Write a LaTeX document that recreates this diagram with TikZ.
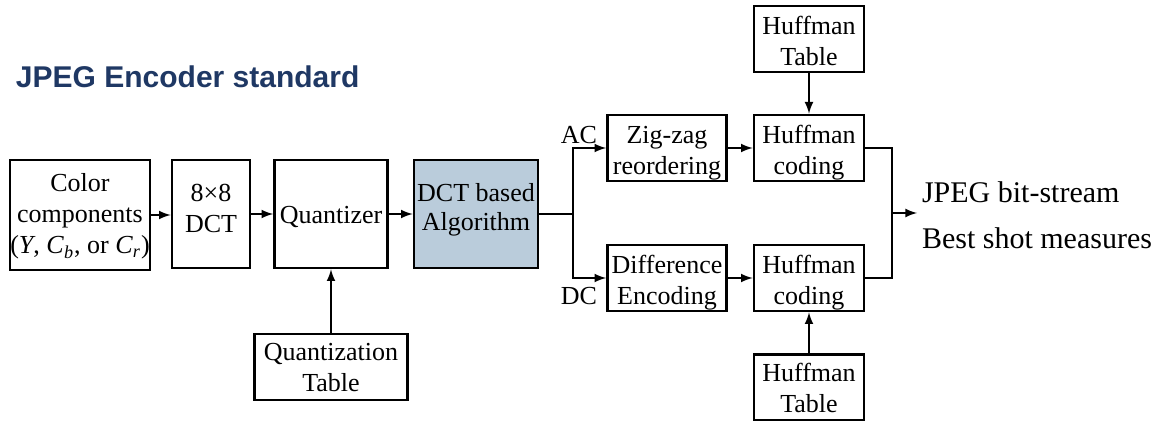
\documentclass[tikz,border=0pt]{standalone}
\usepackage{fontspec}
\setmainfont{Liberation Serif}
\newfontfamily\titlefont{Liberation Sans}
\definecolor{titleblue}{RGB}{31,56,100}
\definecolor{algofill}{RGB}{186,204,219}
\tikzset{blk/.style={draw, line width=1.4pt, inner sep=0pt, align=center, font=\fontsize{13}{15.5}\selectfont, text depth=1pt},
  smallblk/.style={blk, minimum width=#1, minimum height=33pt, text height=28pt},
  lbl/.style={font=\fontsize{13}{15}\selectfont, inner sep=1pt}}
\begin{document}
\begin{tikzpicture}[>=latex, x=0.5pt, y=-0.5pt, line width=1pt]
\useasboundingbox (0,0) rectangle (1160,421);
\node[anchor=west, inner sep=0pt, text=titleblue, font=\titlefont\bfseries\fontsize{15}{18}\selectfont] (title) at (15,77) {JPEG Encoder standard};
\node[blk, minimum width=70pt, minimum height=55pt, text height=40pt] (col) at (80,215) {Color\\components\\(\textit{Y}, \textit{C}\textsubscript{\textit{b}}, or \textit{C}\textsubscript{\textit{r}})};
\node[blk, minimum width=39pt, minimum height=54pt, text height=20pt] (dct) at (211,214) {8\texttimes8\\DCT};
\node[blk, minimum width=56.5pt, minimum height=54pt, text height=11pt] (quant) at (331,214) {Quantizer};
\node[blk, fill=algofill, minimum width=62pt, minimum height=54pt, text height=18pt, font=\fontsize{13}{14.5}\selectfont] (algo) at (476,214) {DCT based\\Algorithm};
\node[smallblk=76.5pt, text height=26pt] (qt) at (331,367) {Quantization\\Table};
\node[smallblk=59.5pt] (zig) at (667,148) {Zig-zag\\reordering};
\node[smallblk=59.5pt] (diff) at (667,278) {Difference\\Encoding};
\node[smallblk=55pt] (hc1) at (809,148) {Huffman\\coding};
\node[smallblk=55pt] (hc2) at (809,278) {Huffman\\coding};
\node[smallblk=55pt] (ht1) at (809,39) {Huffman\\Table};
\node[smallblk=55pt, text height=26.5pt] (ht2) at (809,387.5) {Huffman\\Table};
\node[lbl] (ac) at (579,135) {AC};
\node[lbl] (dc) at (579,296) {DC};
\node[anchor=west, align=left, font=\fontsize{15}{23}\selectfont, inner sep=2pt] (out) at (917,215) {JPEG bit-stream\\Best shot measures};
\coordinate (split) at (573,214);
\coordinate (merge) at (892,213);

\draw[->] (col.east)--(col.east-|dct.west);
\draw[->] (dct.east)--(quant.west);
\draw[->] (quant.east)--(algo.west);
\draw[->] (qt.north)--(quant.south);
\draw (algo.east)--(split);
\draw[->] (split)|-(zig.west); \draw[->] (split)|-(diff.west);
\draw[->] (zig.east)--(hc1.west); \draw[->] (diff.east)--(hc2.west);
\draw[->] (ht1.south)--(hc1.north); \draw[->] (ht2.north)--(hc2.south);
\draw (hc1.east)-|(merge); \draw (hc2.east)-|(merge);
\draw[->] (merge)--(merge-|out.west);

\end{tikzpicture}
\end{document}
